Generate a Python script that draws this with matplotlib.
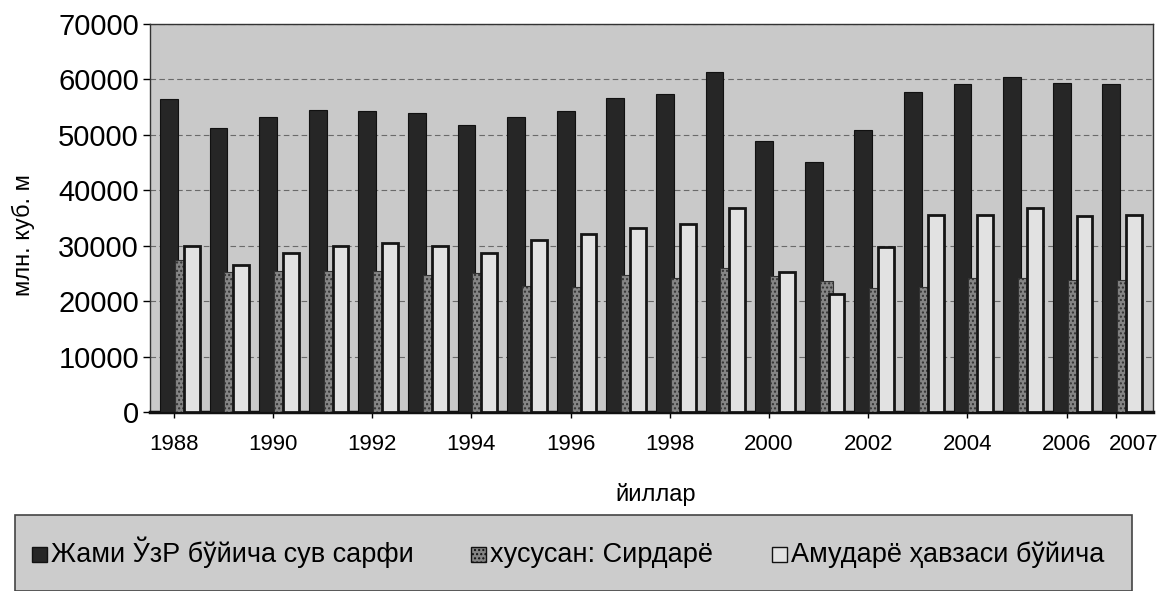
import matplotlib
matplotlib.use("Agg")
import matplotlib.pyplot as plt
import matplotlib.transforms as mtransforms
from matplotlib.patches import Rectangle
import numpy as np

plt.rcParams['font.family'] = ['Liberation Sans', 'DejaVu Sans']

years = list(range(1988, 2008))
total = [56400, 51200, 53300, 54400, 54300, 54000, 51700, 53300, 54300, 56700,
         57400, 61300, 48900, 45100, 50800, 57700, 59200, 60500, 59300, 59100]
syrdarya = [27500, 25300, 25400, 25400, 25400, 24700, 25000, 22700, 22600, 24700,
            24100, 25900, 24500, 23600, 22300, 22600, 24100, 24100, 23800, 23800]
amudarya = [29900, 26500, 28700, 30000, 30500, 29900, 28700, 31100, 32200, 33200,
            34000, 36800, 25300, 21300, 29800, 35500, 35500, 36800, 35400, 35500]
series_names = ["Жами ЎзР бўйича сув сарфи", "хусусан: Сирдарё", "Амударё ҳавзаси бўйича"]
tick_years = [1988, 1990, 1992, 1994, 1996, 1998, 2000, 2002, 2004, 2006, 2007]
yticks = [0, 10000, 20000, 30000, 40000, 50000, 60000, 70000]

W, H = 1164, 591
fig = plt.figure(figsize=(W / 100, H / 100), dpi=100)
ax = fig.add_axes([150 / W, 1 - 412 / H, (1153 - 150) / W, (412 - 24) / H])
ax.set_facecolor('#c9c9c9')

x = np.array(years, dtype=float)
c_dark, c_mid, c_light = '#262626', '#858585', '#e2e2e2'
ax.bar(x - 0.10, total, width=0.36, color=c_dark, edgecolor='#111111', linewidth=0.8, zorder=3)
ax.bar(x + 0.15, syrdarya, width=0.26, color=c_mid, edgecolor='#333333', linewidth=0.8,
       hatch='....', zorder=4)
ax.bar(x + 0.36, amudarya, width=0.32, color=c_light, edgecolor='#151515', linewidth=2.0, zorder=5)

ax.set_xlim(1987.52, 2007.74)
ax.set_ylim(0, 70000)
ax.set_yticks(yticks)
ax.set_yticklabels([str(v) for v in yticks], fontsize=21)
ax.set_xticks(tick_years)
ax.set_xticklabels([str(v) for v in tick_years], fontsize=16)
ax.tick_params(axis='y', length=5, width=1, pad=3)
ax.tick_params(axis='x', length=4, width=1, pad=12)
# shift last tick label (2007) right as in the reference
lab = ax.get_xticklabels()[-1]
lab.set_transform(lab.get_transform() + mtransforms.ScaledTranslation(17 / 100, 0, fig.dpi_scale_trans))

ax.grid(axis='y', color='#6a6a6a', linewidth=0.8, linestyle=(0, (5, 3)), zorder=1)
ax.set_axisbelow(True)
for s in ['left', 'top', 'right']:
    ax.spines[s].set_color('#333333')
    ax.spines[s].set_linewidth(1.0)
ax.spines['bottom'].set_color('#111111')
ax.spines['bottom'].set_linewidth(2.5)

fig.text(23 / W, 1 - 235 / H, "млн. куб. м", rotation=90, ha='center', va='center', fontsize=17)
fig.text(656 / W, 1 - 494 / H, "йиллар", ha='center', va='center', fontsize=17)

# legend box
fig.patches.append(Rectangle((15 / W, 0), (1132 - 15) / W, (591 - 515) / H,
                             transform=fig.transFigure, facecolor='#cccccc',
                             edgecolor='#444444', linewidth=1.2, zorder=0))
leg_marker_x = [32, 471, 772]
leg_colors = [c_dark, c_mid, c_light]
leg_hatch = [None, '....', None]
for mx, col, hat, name in zip(leg_marker_x, leg_colors, leg_hatch, series_names):
    fig.patches.append(Rectangle((mx / W, 1 - 562 / H), 15 / W, 15 / H,
                                 transform=fig.transFigure, facecolor=col, hatch=hat,
                                 edgecolor='#111111', linewidth=1.0, zorder=2))
    fig.text((mx + 19) / W, 1 - 562 / H, name, ha='left', va='baseline', fontsize=19.5, zorder=3)

fig.savefig('out.png', dpi=100)
